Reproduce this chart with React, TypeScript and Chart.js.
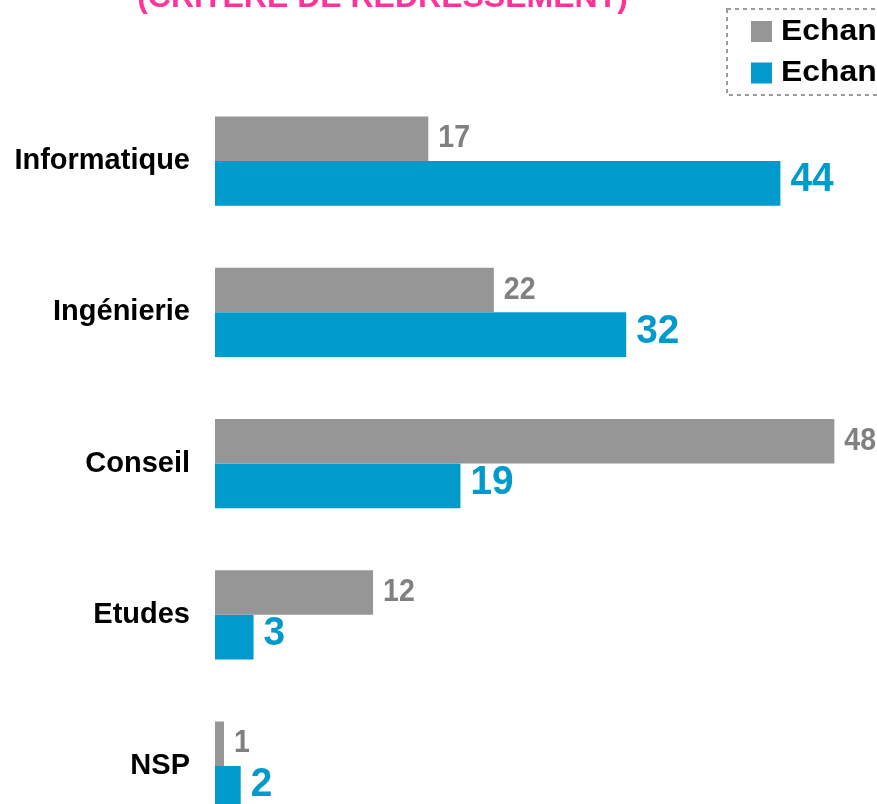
import React, { useEffect, useRef } from "react";
import { Chart, registerables } from "chart.js";

Chart.register(...registerables);

const categories = ["Informatique", "Ingénierie", "Conseil", "Etudes", "NSP"];
const seriesNames = ["Echantillon brut", "Echantillon redressé"];
const brutValues = [16.6, 21.7, 48.2, 12.3, 0.7];
const redresseValues = [44.0, 32.0, 19.1, 3.0, 2.0];
const titleText = "(CRITERE DE REDRESSEMENT)";

const GRAY = "#969696";
const GRAY_LABEL = "#808080";
const BLUE = "#009BCC";
const PINK = "#FF3399";
const FONT = "'Liberation Sans', Arial, Helvetica, sans-serif";

const decorPlugin = {
  id: "decor",
  afterDatasetsDraw(chart: any) {
    const ctx = chart.ctx;
    chart.data.datasets.forEach((ds: any, di: number) => {
      const meta = chart.getDatasetMeta(di);
      meta.data.forEach((bar: any, i: number) => {
        const v = Math.round(ds.data[i]);
        ctx.save();
        const big = di === 1;
        const size = big ? 40 : 31;
        const sx = big ? 0.97 : 0.92;
        ctx.font = `bold ${size}px ${FONT}`;
        ctx.fillStyle = big ? BLUE : GRAY_LABEL;
        ctx.textAlign = "left";
        ctx.textBaseline = "middle";
        ctx.translate(bar.x + 10, bar.y + (big ? -3 : 0));
        ctx.scale(sx, 1);
        ctx.fillText(String(v), 0, 0);
        ctx.restore();
      });
    });
  },
  afterDraw(chart: any) {
    const ctx = chart.ctx;
    ctx.save();
    ctx.font = `bold 32px ${FONT}`;
    ctx.fillStyle = PINK;
    ctx.textAlign = "center";
    ctx.textBaseline = "alphabetic";
    ctx.fillText(titleText, 382.5, 7);
    ctx.restore();

    ctx.save();
    ctx.strokeStyle = "#9a9a9a";
    ctx.lineWidth = 2;
    ctx.setLineDash([4, 4]);
    ctx.strokeRect(727, 9, 300, 86);
    ctx.setLineDash([]);
    const rows = [31.5, 73];
    chart.data.datasets.forEach((ds: any, di: number) => {
      const y = rows[di];
      ctx.fillStyle = ds.backgroundColor;
      ctx.fillRect(751, y - 10.5, 21, 21);
      ctx.save();
      ctx.fillStyle = "#000";
      ctx.font = `bold 29px ${FONT}`;
      ctx.textAlign = "left";
      ctx.textBaseline = "middle";
      ctx.translate(781, y);
      ctx.scale(1.1, 1);
      ctx.fillText(ds.label, 0, 0);
      ctx.restore();
    });
    ctx.restore();
  },
};

export default function App() {
  const ref = useRef<HTMLCanvasElement | null>(null);

  useEffect(() => {
    if (!ref.current) return;
    const chart = new Chart(ref.current, {
      type: "bar",
      data: {
        labels: categories,
        datasets: [
          {
            label: seriesNames[0],
            data: brutValues,
            backgroundColor: GRAY,
            borderWidth: 0,
            categoryPercentage: 0.59,
            barPercentage: 1,
          },
          {
            label: seriesNames[1],
            data: redresseValues,
            backgroundColor: BLUE,
            borderWidth: 0,
            categoryPercentage: 0.59,
            barPercentage: 1,
          },
        ],
      },
      options: {
        indexAxis: "y",
        responsive: false,
        animation: false,
        devicePixelRatio: 1,
        layout: { padding: { top: 85.5, bottom: 9.5, left: 0, right: 14 } },
        plugins: {
          legend: { display: false },
          title: { display: false },
          tooltip: { enabled: false },
        },
        scales: {
          x: {
            display: false,
            min: 0,
            max: 60,
          },
          y: {
            grid: { display: false, drawTicks: false },
            border: { display: false },
            ticks: {
              color: "#000",
              font: { family: FONT, size: 29, weight: "bold" },
              padding: 25,
            },
            afterFit: (scale: any) => {
              scale.width = 215;
            },
          },
        },
      } as any,
      plugins: [decorPlugin],
    });
    return () => chart.destroy();
  }, []);

  return (
    <div
      style={{
        position: "absolute",
        left: 0,
        top: 0,
        width: 877,
        height: 804,
        overflow: "hidden",
        background: "#fff",
      }}
    >
      <canvas ref={ref} width={1000} height={884} style={{ display: "block" }} />
    </div>
  );
}
